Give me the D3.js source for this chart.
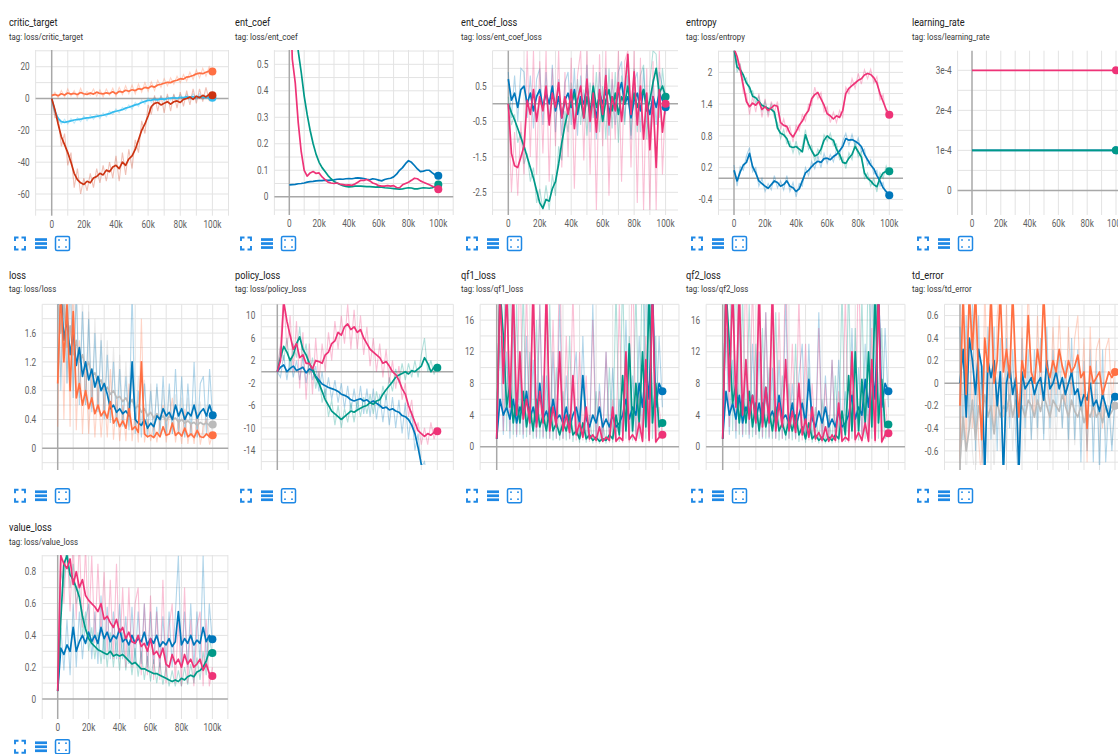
<!DOCTYPE html>
<html><head><meta charset="utf-8">
<script src="https://cdn.jsdelivr.net/npm/d3@7"></script>
<style>
html,body{margin:0;padding:0;background:#fff;overflow:hidden}
svg{display:block;font-family:Roboto,'Noto Sans',sans-serif}
</style></head><body>
<svg id="c" width="1118" height="754"></svg>
<script>
// ---------- DATA (step axis: 0..100k every 2k) ----------
const STEPS = d3.range(0, 100001, 2000);
const X_TICKS = [0, 20000, 40000, 60000, 80000, 100000];
const X_LABELS = ["0", "20k", "40k", "60k", "80k", "100k"];

// critic_target
const ct_cyan_s = [0,-8,-12.5,-14.5,-15,-14.5,-14,-13.5,-13.2,-13, -12.5,-12.2,-12,-11.5,-11.2,-10.8,-10.5,-10,-9.5,-8.5, -8,-7.5,-7,-6,-5.5,-4.8,-4,-3.5,-2.5,-1.8, -1.2,-1,-0.5,-0.8,-0.2,-0.5,0,0.3,0.5,0.2, 0.8,0.6,1,0.7,1.1,0.8,1.2,0.9,0.6,0.8, 0.5];
const ct_cyan_r = [0,-10,-13,-16,-13,-16,-12.5,-15.5,-12,-14.5, -11,-14,-10.5,-13,-10,-12.5,-9,-11.5,-8,-10, -6.5,-9,-5.5,-7.5,-4,-6.5,-2.5,-5,-1,-3.5, 0.5,-2.5,1,-2,1.5,-1.5,1.5,-1,2,-1, 2.5,-0.5,2.5,-0.5,3,-0.5,3,-0.5,2,-0.5, 1];
const ct_orange_s = [2,2.5,1.8,3,2.2,3.5,2.8,3.2,2.5,3.8, 3,2.6,3.5,2.8,4,3.2,2.9,3.6,3.1,4.2, 3,4.5,4,5.2,4.6,5.5,5,6.2,5.8,7, 6.5,7.8,7.2,8.5,9,9.6,10.2,10,11,11.5, 12.5,12.2,13.5,13.8,14.5,15.5,16,15.6,16.5,17.2, 17];
const ct_orange_r = [1,4,0.5,5,1,6,1.5,5,0.8,6.5, 1.5,4.5,2,6,1.5,5.5,1,6,2,6.5, 1.5,7,2.5,8,3,8.5,3,9,4,10, 4.5,10.5,5,11.5,7,12.5,8,13,9,14, 10,15,11,16.5,12,18,13,19,14,20, 16];
const ct_red_s = [0,-7,-16,-24,-29,-34,-40,-47,-51,-53, -54,-52,-53,-50,-49,-47,-48,-45,-46,-43, -42,-44,-40,-42,-38,-36,-32,-26,-20,-16, -11,-5,-3,-2.5,-4,-3,-2,-3.5,-2,-1.5, -2.5,-0.5,0,1,-0.5,1.5,0.5,2,1,2.5, 2];
const ct_red_r = [0,-12,-12,-30,-22,-42,-34,-56,-44,-60, -50,-58,-47,-56,-44,-53,-42,-52,-40,-50, -36,-52,-34,-48,-32,-44,-26,-34,-14,-22, -4,-10,2,-8,2,-9,3,-8,3,-6, 4,-5,5,-4,6,-3,6,-2,7,-1, 4];
const ct_yTicks = [20, 0, -20, -40, -60];
const ct_yLabels = ["20", "0", "-20", "-40", "-60"];

// ent_coef
const ec_blue = [0.045,0.046,0.047,0.049,0.05,0.052,0.055,0.057,0.058,0.06, 0.061,0.061,0.063,0.062,0.063,0.064,0.066,0.067,0.066,0.068, 0.069,0.068,0.07,0.071,0.07,0.069,0.066,0.064,0.068,0.066, 0.063,0.06,0.065,0.068,0.07,0.075,0.085,0.1,0.11,0.125, 0.136,0.13,0.118,0.105,0.095,0.097,0.1,0.1,0.09,0.082, 0.079];
const ec_teal = [1.2,0.9,0.7,0.55,0.47,0.38,0.31,0.25,0.2,0.16, 0.13,0.11,0.095,0.08,0.068,0.058,0.052,0.046,0.042,0.039, 0.037,0.038,0.04,0.04,0.04,0.039,0.038,0.038,0.037,0.036, 0.037,0.036,0.034,0.033,0.032,0.031,0.03,0.029,0.03,0.032, 0.034,0.033,0.03,0.03,0.032,0.034,0.033,0.032,0.034,0.04, 0.046];
const ec_mag = [0.9,0.52,0.43,0.28,0.17,0.1,0.078,0.09,0.095,0.088, 0.09,0.075,0.065,0.055,0.052,0.05,0.052,0.048,0.046,0.044, 0.045,0.043,0.048,0.055,0.062,0.062,0.065,0.06,0.052,0.048, 0.042,0.04,0.04,0.042,0.04,0.042,0.035,0.034,0.045,0.05, 0.055,0.062,0.07,0.068,0.06,0.055,0.05,0.045,0.04,0.035, 0.028];
const ec_yTicks = [0, 0.1, 0.2, 0.3, 0.4, 0.5];
const ec_yLabels = ["0", "0.1", "0.2", "0.3", "0.4", "0.5"];

// ent_coef_loss
const ecl_blue_s = [0.7,0.1,0.3,-0.1,0.4,0.5,0.0,0.3,-0.2,0.2, 0.4,-0.1,0.3,0.0,0.5,-0.2,0.2,-0.4,0.1,0.3, -0.1,0.4,-0.3,0.2,0.0,0.5,-0.2,0.1,-0.4,0.3, 0.0,0.4,-0.3,0.2,-0.1,0.3,0.6,0.0,0.2,-0.4, 0.1,0.3,-0.2,0.4,0.0,-0.3,0.2,-0.1,0.3,0.1, -0.1];
const ecl_blue_r = [0.9,-0.4,0.8,-0.5,1.0,0.9,-0.4,0.8,-0.7,0.7, 1.0,-0.6,0.9,-0.5,1.1,-0.8,0.7,-0.9,0.6,0.9, -0.6,1.0,-0.9,0.8,-0.5,1.1,-0.8,0.6,-1.0,0.9, -0.5,1.0,-0.9,0.7,-0.6,0.9,1.2,-0.5,0.8,-1.0, 0.6,0.9,-0.8,1.0,-0.5,-0.9,0.7,-0.6,0.9,0.5, -0.3];
const ecl_teal_s = [0,-0.25,-0.45,-0.7,-0.95,-1.2,-1.5,-1.8,-2.1,-2.45, -2.8,-2.95,-2.7,-2.75,-2.4,-2.2,-1.7,-1.1,-0.6,-0.2, 0.0,0.3,-0.2,0.1,-0.4,0.2,-0.3,0.5,-0.1,0.2, -0.5,0.1,0.4,-0.2,0.3,-0.3,0.2,0.0,0.5,-0.2, 0.3,-0.1,0.2,0.4,-0.2,0.1,0.6,1.0,0.3,0.5, 0.2];
const ecl_teal_r = [0.2,-0.6,-0.3,-1.1,-0.8,-1.7,-1.4,-2.2,-1.8,-2.8, -2.4,-3.0,-2.3,-3.0,-2.0,-2.6,-1.2,-1.6,-0.2,-0.8, 0.6,-0.5,0.7,-0.6,0.4,-0.9,0.6,-0.4,0.9,-0.8, 0.5,-1.0,1.0,-0.7,0.9,-1.1,0.8,-0.6,1.2,-0.9, 1.0,-0.8,0.8,1.1,-1.0,0.6,1.5,1.4,-0.4,1.0, 0.1];
const ecl_mag_s = [0,-1.4,-1.75,-1.8,-1.5,-1.2,0.1,-0.3,0.4,-0.5, 0.2,-0.2,0.5,-0.6,0.3,-0.1,0.6,-0.4,0.2,-0.3, 0.4,-0.7,0.1,0.5,-0.4,0.7,-0.5,0.3,-0.8,0.4, -0.3,0.8,-0.6,0.2,-0.2,0.6,-0.5,0.4,1.4,-0.3, 0.9,-0.6,0.5,-1.0,0.3,-1.3,0.2,-1.8,0.4,-0.8, 0.0];
const ecl_mag_r = [0,-2.5,-0.8,-2.6,-0.5,-2.0,1.5,-1.5,1.5,-2.0, 1.2,-1.4,1.5,-2.2,1.0,-1.2,1.5,-1.8,0.9,-1.5, 1.3,-2.4,0.8,1.5,-1.6,1.5,-2.0,1.1,-3.0,1.4, -1.2,1.5,-2.6,0.9,-1.0,1.5,-2.2,1.2,1.5,-1.8, 1.5,-2.8,1.3,-3.0,1.0,-3.0,1.2,-3.0,1.5,-2.0, 0.2];
const ecl_yTicks = [0.5, -0.5, -1.5, -2.5];
const ecl_yLabels = ["0.5", "-0.5", "-1.5", "-2.5"];

// entropy
const en_blue_s = [0.15,-0.05,0.12,0.25,0.3,0.47,0.22,0.1,-0.05,-0.1, -0.15,-0.19,-0.12,-0.05,-0.08,-0.15,-0.12,-0.05,-0.15,-0.18, -0.25,-0.2,-0.05,0.1,0.15,0.22,0.28,0.32,0.3,0.37, 0.38,0.35,0.41,0.45,0.52,0.6,0.75,0.72,0.73,0.7, 0.66,0.6,0.45,0.35,0.25,0.18,0.05,-0.05,-0.18,-0.25, -0.32];
const en_blue_r = [0.25,-0.15,0.22,0.15,0.42,0.58,0.12,0.2,-0.15,0.0, -0.25,-0.1,-0.22,0.05,-0.18,-0.05,-0.22,0.05,-0.25,-0.08, -0.35,-0.1,-0.15,0.2,0.05,0.32,0.18,0.42,0.2,0.47, 0.28,0.45,0.31,0.55,0.42,0.7,0.85,0.62,0.83,0.6, 0.76,0.5,0.55,0.25,0.35,0.08,0.15,-0.15,-0.08,-0.35, -0.4];
const en_teal_s = [2.45,2.1,2.05,1.95,1.8,1.72,1.55,1.52,1.45,1.38, 1.35,1.32,1.3,1.25,0.95,0.85,0.82,0.75,0.6,0.58, 0.6,0.55,0.5,0.82,0.65,0.52,0.42,0.45,0.55,0.72, 0.8,0.75,0.72,0.55,0.45,0.3,0.28,0.38,0.45,0.6, 0.5,0.4,0.1,0.0,-0.05,-0.12,-0.16,0.0,0.1,0.13, 0.13];
const en_teal_r = [2.5,2.0,2.15,1.85,1.9,1.62,1.65,1.42,1.55,1.28, 1.45,1.22,1.4,1.15,1.05,0.75,0.92,0.65,0.7,0.48, 0.7,0.45,0.6,0.92,0.55,0.62,0.32,0.55,0.45,0.82, 0.7,0.85,0.62,0.65,0.35,0.4,0.18,0.48,0.35,0.7, 0.4,0.5,0.0,0.1,-0.15,0.0,-0.26,0.1,0.0,0.23, 0.05];
const en_mag_s = [2.45,2.3,2.05,1.75,1.45,1.35,1.42,1.38,1.45,1.3, 1.35,1.28,1.33,1.38,1.36,1.05,1.0,0.98,0.85,0.78, 0.88,1.0,1.08,1.2,1.28,1.5,1.58,1.62,1.5,1.38, 1.22,1.18,1.12,1.18,1.15,1.28,1.6,1.7,1.75,1.8, 1.85,1.88,1.95,1.98,1.96,1.9,1.8,1.6,1.45,1.3, 1.2];
const en_mag_r = [2.5,2.2,2.15,1.6,1.6,1.2,1.55,1.25,1.6,1.15, 1.5,1.15,1.45,1.25,1.45,0.92,1.12,0.88,0.98,0.68, 1.0,0.9,1.2,1.08,1.4,1.38,1.72,1.5,1.62,1.25, 1.35,1.05,1.25,1.05,1.28,1.15,1.72,1.6,1.88,1.7, 1.98,1.78,2.05,1.88,2.06,1.8,1.92,1.48,1.58,1.2, 1.25];
const en_yTicks = [2, 1.4, 0.8, 0.2, -0.4];
const en_yLabels = ["2", "1.4", "0.8", "0.2", "-0.4"];

// learning_rate
const LR_STEPS = [0, 100000];
const lr_blue = [1e-4, 1e-4];
const lr_teal = [1e-4, 1e-4];
const lr_mag = [3e-4, 3e-4];
const lr_yTicks = [0, 1e-4, 2e-4, 3e-4];
const lr_yLabels = ["0", "1e-4", "2e-4", "3e-4"];

// loss
const ls_gray_s = [2.2,1.6,2.0,1.4,1.7,1.3,1.5,1.2,1.3,1.1, 1.2,1.0,1.05,0.9,0.95,0.8,0.85,0.75,0.8,0.7, 0.72,0.65,0.7,0.6,0.68,0.55,0.6,0.5,0.55,0.45, 0.5,0.42,0.48,0.4,0.45,0.38,0.45,0.4,0.42,0.36, 0.4,0.35,0.38,0.34,0.36,0.32,0.36,0.33,0.35,0.32, 0.33];
const ls_gray_r = [2.5,1.0,2.5,0.9,2.5,0.8,2.3,0.7,2.1,0.6, 1.9,0.55,1.8,0.5,1.6,0.45,1.5,0.4,1.4,0.4, 1.3,0.35,1.2,0.3,1.1,0.3,1.0,0.3,0.95,0.25, 0.9,0.25,0.85,0.2,0.8,0.2,0.8,0.2,0.75,0.2, 0.7,0.15,0.7,0.15,0.65,0.15,0.65,0.15,0.6,0.15, 0.35];
const ls_blue_s = [2.0,2.2,1.5,1.8,1.3,1.6,1.15,1.4,1.0,1.2, 0.95,1.1,0.85,1.0,0.8,0.9,0.75,0.55,0.6,0.5, 0.55,0.48,0.52,0.45,1.2,0.4,0.35,0.32,0.4,0.28, 0.35,0.3,0.45,0.4,0.55,0.45,0.5,0.4,0.6,0.45, 0.55,0.4,0.5,0.45,0.6,0.42,0.5,0.55,0.45,0.6, 0.46];
const ls_blue_r = [2.5,0.8,2.5,0.9,2.5,0.7,2.2,0.6,1.9,0.6, 1.8,0.5,1.6,0.5,1.5,0.4,1.3,0.35,1.2,0.3, 1.1,0.3,1.0,0.25,2.2,0.2,0.8,0.15,0.9,0.15, 0.8,0.15,0.9,0.2,1.0,0.2,0.9,0.2,1.1,0.2, 1.0,0.15,0.9,0.2,1.2,0.15,0.9,1.0,0.2,1.1, 0.4];
const ls_orange_s = [0.9,2.2,1.2,2.0,0.8,1.9,0.7,0.9,0.6,0.8, 0.55,0.7,0.48,0.6,0.45,0.52,0.42,0.65,0.35,0.42, 0.3,0.38,0.28,0.55,0.26,0.3,0.22,1.2,0.2,0.16, 0.18,0.15,0.22,0.16,0.3,0.18,0.2,0.35,0.18,0.22, 0.17,0.28,0.16,0.2,0.15,0.25,0.16,0.15,0.2,0.16, 0.18];
const ls_orange_r = [0.3,2.5,0.4,2.5,0.3,2.5,0.25,1.5,0.2,1.2, 0.2,1.0,0.15,0.9,0.15,0.8,0.15,1.1,0.12,0.7, 0.1,0.6,0.1,0.9,0.1,0.5,0.08,1.8,0.08,0.4, 0.1,0.35,0.08,0.4,0.6,0.08,0.45,0.7,0.08,0.4, 0.06,0.55,0.06,0.35,0.06,0.5,0.05,0.3,0.4,0.05, 0.2];
const ls_yTicks = [0, 0.4, 0.8, 1.2, 1.6];
const ls_yLabels = ["0", "0.4", "0.8", "1.2", "1.6"];

// policy_loss
const pl_blue_s = [0,0.8,1.2,0,0.6,1,0.2,0.5,0.8,-0.2, 0.5,0.2,-0.8,-1.5,-2.2,-2.5,-2.8,-3,-3.2,-3.5, -4,-4.2,-4.5,-5,-5.2,-5,-4.8,-5.2,-5,-5.5, -5.2,-5.6,-6,-6.5,-6.3,-6.8,-6.6,-7,-7.2,-7.8, -8,-8.5,-9.5,-11,-13.5,-16.5,-18,-19,-20,-21, -22];
const pl_blue_r = [0,-1,3,-1.5,2.5,-1,2,-1.5,2.5,-2, 2,-1.5,1,-3.5,0,-4.5,-1,-5,-1.5,-5.5, -2,-6.5,-2.5,-7,-3,-7,-2.5,-7.5,-3,-8, -3,-8.5,-4,-9,-4,-9.5,-4.5,-10,-5,-11, -5.5,-12,-7,-14,-11,-17,-16,-20,-18,-22, -20];
const pl_teal_s = [0,2.5,4.5,3.5,2,3,5,6.2,4,3, 1.5,0.5,-1,-2,-3.5,-5,-6,-7,-7.5,-8, -8.5,-8,-7.5,-7,-7.2,-6.8,-6.5,-6.2,-6,-5.5, -5.8,-5.2,-5,-4,-3.2,-2.5,-1.8,-1,-0.6,-0.3, 0,-0.4,0.2,0,0.5,1,2.5,1.5,0,0.8, 0.7];
const pl_teal_r = [0,4.5,2,6,0,5,2.5,8,2,5, -0.5,2.5,-3,0,-5.5,-3,-8,-5,-9.5,-6, -10,-6.5,-9,-5.5,-9,-5,-8,-4.5,-7.5,-4, -7.5,-3.5,-6.5,-2.5,-5,-1,-3.5,0.5,-2,1.5, -1.5,1.5,-1,2,-1,3,6,0,2,-0.5, 1.5];
const pl_mag_s = [0,2,12.5,9,6.5,4,5,2.5,3,1.5, 1.5,0.5,2,1.8,1.5,3,3.5,5,5.5,7, 6.5,8,8.5,7.5,8,7,7.5,6,5,4, 3.5,3,2.5,1.5,1.8,1,0,-0.5,-1.5,-3, -4,-6,-7.5,-9,-10.5,-11,-11.5,-11,-11.3,-10.8, -10.6];
const pl_mag_r = [0,5,14,4,10,0,9,-3,7,-5, 5,-4,6,-2,5,0,7,2,9,4, 10,5,12,4,11,4,10,3,8,1, 6,0,5,-1,4,-2,2,-3,1,-5, -2,-8,-5,-11,-9,-13,-10,-13,-9,-12, -10];
const pl_yTicks = [10, 6, 2, -2, -6, -10, -14];
const pl_yLabels = ["10", "6", "2", "-2", "-6", "-10", "-14"];

// qf1_loss
const q1_blue_s = [1,6,4,5,3.5,6,3,5,4,7, 3.5,5,3,8,3.5,4.5,3,6,3.5,4, 3,5,2.5,4,5,3,9,3.5,2.5,4, 3,5,2.5,3.5,2.5,4,2.5,3,4,6, 3.5,5,4,8,5,10,6,20,5,8, 7];
const q1_blue_r = [1,14,1.5,12,1,16,1.2,10,1,14, 1.5,11,1,18,1,9,1,12,1,18, 1,9,1,8,12,1,14,1.5,1,18, 1,8,1,12,1,10,1,6,1.5,16, 1,9,1.5,14,2,25,1.5,18,2,14, 5];
const q1_teal_s = [1,20,14,5,8,3,6,3,7,2.5, 5,2,6,2.5,4,2,5,2,3,1.5, 3,2,4,1.5,2,1,3,1,1.5,0.8, 1.2,0.7,1,0.8,1.5,1,4,1.5,9,2, 13,2,8,3,12,2.5,20,3,8,2.5, 3];
const q1_teal_r = [1,25,25,2,25,1.5,18,1.5,20,1.2, 12,1,16,1,9,1,18,0.8,10,0.8, 7,0.8,14,0.6,5,0.5,9,0.5,4,0.4, 7,0.4,3,0.4,10,0.5,20,0.6,22,1, 14,0.8,20,1,25,1,25,1,14,1, 2];
const q1_mag_s = [1,20,8,20,5,20,4,12,3.5,6, 3,20,2.5,7,3,20,2,5,2.5,12, 2,4,1.8,9,1.5,3,1.2,5,1,1.5, 0.8,2.5,0.7,1.2,0.8,5,0.7,1.2,0.8,12, 0.9,1.5,0.8,3,0.7,11,0.8,20,0.6,1.2, 1.5];
const q1_mag_r = [1,25,2,25,2,25,1.5,25,1.5,20, 1.5,25,1.2,18,1.2,25,1.0,16,1.0,25, 1.0,14,0.9,20,0.8,12,0.8,9,0.6,16, 0.5,7,0.5,12,0.5,6,0.5,18,0.5,8, 0.5,25,0.5,7,0.5,14,0.5,25,0.4,5, 1.2];
const q_yTicks = [0, 4, 8, 12, 16];
const q_yLabels = ["0", "4", "8", "12", "16"];

// qf2_loss
const q2_blue_s = [1,7,4,5.5,3.5,6.5,3,5,4,6.5, 3.5,5.5,3,7.5,3.5,4.5,3,6.5,3.5,4, 3,5.5,2.5,4,5.5,3,8.5,3.5,2.5,4.5, 3,5,2.5,3.5,2.5,4.5,2.5,3,4,6.5, 3.5,5,4,8.5,5,10,6,20,5,8, 7];
const q2_blue_r = [1,15,1.5,11,1,17,1.2,11,1,13, 1.5,12,1,17,1,10,1,11,1,19, 1,8,1,9,13,1,13,1.5,1,17, 1,9,1,11,1,11,1,7,1.5,15, 1,10,1.5,13,2,25,1.5,17,2,15, 5];
const q2_teal_s = [1,20,13,5.5,8,3,6.5,3,7,2.5, 5.5,2,5.5,2.5,4.5,2,5,2,3,1.5, 3.5,2,4,1.5,2.5,1,3,1,1.5,0.8, 1.2,0.7,1.2,0.8,1.5,1,4.5,1.5,9,2, 12,2,8.5,3,12,2.5,20,3,8.5,2.5, 2.8];
const q2_teal_r = [1,25,25,2,25,1.5,19,1.5,18,1.2, 13,1,15,1,10,1,17,0.8,9,0.8, 8,0.8,13,0.6,6,0.5,10,0.5,5,0.4, 6,0.4,4,0.4,9,0.5,20,0.6,21,1, 15,0.8,19,1,25,1,25,1,15,1, 2];
const q2_mag_s = [1,20,7,20,5,20,4,11,3.5,6.5, 3,20,2.5,7.5,3,20,2,5.5,2.5,11, 2,4.5,1.8,8,1.5,3.5,1.2,5,1,1.8, 0.8,2.5,0.7,1.5,0.8,5.5,0.7,1.2,0.8,12, 0.9,1.8,0.8,3,0.7,11,0.8,20,0.6,1.5, 1.7];
const q2_mag_r = [1,25,2.5,25,2,25,1.5,24,1.5,21, 1.5,25,1.2,17,1.2,25,1.0,17,1.0,25, 1.0,13,0.9,19,0.8,13,0.8,8,0.6,15, 0.5,8,0.5,11,0.5,7,0.5,19,0.5,7, 0.5,25,0.5,8,0.5,15,0.5,25,0.4,6, 1.2];

// td_error
const td_gray_s = [-0.7,-0.3,-0.6,-0.4,-0.15,-0.5,-0.2,-0.35,-0.1,-0.3, -0.2,-0.45,-0.15,-0.3,-0.2,-0.25,-0.1,-0.3,-0.15,-0.25, -0.2,-0.3,-0.15,-0.2,-0.3,-0.15,-0.25,-0.1,-0.2,-0.3, -0.15,-0.2,-0.25,-0.1,-0.2,-0.3,-0.15,-0.25,-0.3,-0.2, -0.35,-0.25,-0.3,-0.2,-0.3,-0.25,-0.35,-0.2,-0.3,-0.25, -0.2];
const td_gray_r = [-0.9,0.1,-0.9,0.0,-0.6,-0.9,0.1,-0.7,0.2,-0.7, 0.1,-0.8,0.1,-0.6,0.05,-0.6,0.1,-0.6,0.1,-0.55, 0.05,-0.6,0.1,-0.5,-0.05,-0.5,0.05,-0.45,0.05,-0.6, 0.1,-0.5,0.0,-0.4,0.05,-0.6,0.1,-0.55,-0.05,-0.5, -0.05,-0.6,0.0,-0.5,-0.05,-0.6,-0.1,-0.5,0.0,-0.55, -0.2];
const td_blue_s = [0,0.3,-0.3,0.4,0.2,-0.1,0.3,0.15,-0.8,0.2, 0.05,0.2,-0.2,0.1,-0.8,0.0,0.15,-0.1,0.05,-0.8, 0.1,-0.05,0.0,0.05,-0.1,0.0,0.05,-0.15,0.2,-0.05, 0.0,0.1,-0.05,0.05,-0.1,0.0,0.1,-0.1,-0.05,-0.2, -0.1,-0.15,0.0,-0.2,-0.15,-0.25,-0.1,-0.2,-0.3,-0.15, -0.12];
const td_blue_r = [0.5,-0.5,0.6,-0.4,0.7,-0.6,0.6,-0.5,-0.9,0.5, -0.5,0.5,-0.6,0.4,-0.9,0.4,-0.4,0.3,-0.5,-0.9, 0.4,-0.4,0.3,-0.5,0.3,-0.4,0.4,-0.5,0.5,-0.4, 0.3,-0.3,0.3,-0.4,0.2,-0.5,0.4,-0.5,0.3,-0.7, 0.2,-0.6,0.3,-0.7,0.2,-0.8,0.3,-0.7,-0.2,-0.6, -0.1];
const td_orange_s = [-0.2,0.8,-0.1,0.8,0.3,0.8,0.05,-0.5,0.4,0.1, 0.8,0.0,0.2,0.8,0.1,0.3,0.05,0.8,0.1,-0.3, 0.2,0.05,0.6,0.1,0.0,0.3,0.1,0.8,0.15,0.05, 0.2,0.1,0.3,0.15,0.05,0.2,0.1,0.15,0.25,0.05, 0.1,-0.4,0.15,0.0,0.05,0.1,-0.1,0.0,0.1,0.05, 0.1];
const td_orange_r = [-0.7,0.9,-0.6,0.9,-0.4,0.9,-0.5,-0.9,0.9,-0.3, 0.9,-0.4,0.6,0.9,-0.3,0.7,-0.3,0.9,-0.2,-0.8, 0.5,-0.2,0.9,-0.1,-0.3,0.6,-0.1,0.9,0.0,-0.2, 0.5,-0.1,0.6,0.0,-0.2,0.5,-0.1,0.4,0.6,-0.2, 0.4,-0.7,0.5,-0.3,0.3,0.4,-0.4,0.3,0.4,-0.2, 0.2];
const td_yTicks = [0.6, 0.4, 0.2, 0, -0.2, -0.4, -0.6];
const td_yLabels = ["0.6", "0.4", "0.2", "0", "-0.2", "-0.4", "-0.6"];

// value_loss
const vl_blue_s = [0.05,0.32,0.28,0.34,0.3,0.45,0.3,0.36,0.4,0.35, 0.42,0.36,0.4,0.35,0.45,0.38,0.42,0.36,0.4,0.38, 0.44,0.36,0.38,0.34,0.4,0.35,0.38,0.36,0.42,0.34, 0.38,0.35,0.4,0.33,0.36,0.34,0.38,0.33,0.36,0.55, 0.34,0.38,0.35,0.4,0.34,0.37,0.35,0.45,0.36,0.4, 0.376];
const vl_blue_r = [0.05,0.45,0.18,0.5,0.15,0.6,0.2,0.55,0.25,0.5, 0.6,0.25,0.55,0.22,0.65,0.25,0.58,0.25,0.55,0.25, 0.6,0.25,0.52,0.22,0.58,0.22,0.55,0.22,0.6,0.2, 0.55,0.22,0.58,0.2,0.52,0.2,0.55,0.2,0.52,0.9, 0.2,0.55,0.2,0.6,0.2,0.55,0.22,0.9,0.2,0.6, 0.35];
const vl_teal_s = [0.05,0.5,0.85,0.9,0.78,0.75,0.7,0.64,0.52,0.44, 0.38,0.35,0.33,0.31,0.3,0.29,0.28,0.3,0.27,0.28, 0.27,0.28,0.26,0.24,0.22,0.23,0.21,0.19,0.19,0.18, 0.17,0.16,0.16,0.15,0.14,0.13,0.12,0.11,0.12,0.11, 0.13,0.12,0.14,0.15,0.14,0.17,0.18,0.2,0.24,0.3, 0.29];
const vl_teal_r = [0.05,0.8,0.7,1.0,0.7,0.85,0.6,0.7,0.4,0.55, 0.3,0.45,0.25,0.42,0.22,0.4,0.2,0.42,0.2,0.38, 0.18,0.42,0.18,0.34,0.15,0.32,0.14,0.3,0.12,0.27, 0.11,0.25,0.1,0.23,0.09,0.2,0.08,0.18,0.08,0.18, 0.08,0.2,0.09,0.22,0.1,0.26,0.12,0.3,0.15,0.4, 0.27];
const vl_mag_s = [0.05,0.9,0.85,0.82,0.88,0.72,0.8,0.7,0.75,0.65, 0.62,0.6,0.58,0.55,0.6,0.5,0.52,0.48,0.45,0.5, 0.42,0.45,0.38,0.42,0.36,0.35,0.4,0.33,0.35,0.3, 0.38,0.28,0.3,0.26,0.32,0.22,0.2,0.28,0.22,0.25, 0.2,0.28,0.22,0.25,0.2,0.22,0.25,0.18,0.22,0.16, 0.145];
const vl_mag_r = [0.05,1.0,0.6,1.0,0.55,1.0,0.5,1.0,0.45,0.95, 0.4,0.9,0.35,0.85,0.4,0.8,0.3,0.75,0.25,0.85, 0.25,0.7,0.2,0.7,0.2,0.6,0.7,0.15,0.6,0.15, 0.65,0.12,0.55,0.12,0.75,0.1,0.45,0.6,0.1,0.5, 0.08,0.7,0.1,0.5,0.08,0.45,0.55,0.08,0.5,0.08, 0.2];
const vl_yTicks = [0, 0.2, 0.4, 0.6, 0.8];
const vl_yLabels = ["0", "0.2", "0.4", "0.6", "0.8"];

// ---------- STYLE / LAYOUT ----------
const C = {orange:'#ff7043', blue:'#0077bb', red:'#cc3311', cyan:'#33bbee', magenta:'#ee3377', teal:'#009988', gray:'#bbbbbb'};
const CARD_X = [0, 226, 452, 677, 903];
const ROWS = [{titleY:26, tagY:39.5, iconY:243.5}, {titleY:278.5, tagY:292, iconY:495.7}, {titleY:531, tagY:544.5, iconY:746.7}];

const panels = [
 {title:'critic_target', col:0, row:0, x0:51.7, s:16.07, top:50, bottom:210.7, yd:[-70.5,30.5], yStep:10, yT:ct_yTicks, yL:ct_yLabels, xLab:true,
  series:[{c:C.cyan, s:ct_cyan_s, r:ct_cyan_r},{c:C.orange, s:ct_orange_s, r:ct_orange_r},{c:C.red, s:ct_red_s, r:ct_red_r}]},
 {title:'ent_coef', col:1, row:0, x0:289.3, s:14.9, top:50, bottom:210, yd:[-0.05,0.554], yStep:0.05, yT:ec_yTicks, yL:ec_yLabels, xLab:true,
  series:[{c:C.blue, s:ec_blue},{c:C.teal, s:ec_teal},{c:C.magenta, s:ec_mag}]},
 {title:'ent_coef_loss', col:2, row:0, x0:508.3, s:15.73, top:50.7, bottom:210, yd:[-3.0,1.5], yStep:0.5, yT:ecl_yTicks, yL:ecl_yLabels, xLab:true, gr:678,
  series:[{c:C.blue, s:ecl_blue_s, r:ecl_blue_r},{c:C.teal, s:ecl_teal_s, r:ecl_teal_r},{c:C.magenta, s:ecl_mag_s, r:ecl_mag_r}]},
 {title:'entropy', col:3, row:0, x0:734, s:15.53, top:50.7, bottom:210, yd:[-0.6,2.41], yStep:0.2, yT:en_yTicks, yL:en_yLabels, xLab:true, gr:903,
  series:[{c:C.blue, s:en_blue_s, r:en_blue_r},{c:C.teal, s:en_teal_s, r:en_teal_r},{c:C.magenta, s:en_mag_s, r:en_mag_r}]},
 {title:'learning_rate', col:4, row:0, x0:972, s:14.4, top:50.7, bottom:210, yd:[-0.49e-4,3.49e-4], yStep:0.5e-4, yT:lr_yTicks, yL:lr_yLabels, xLab:true, steps:LR_STEPS,
  series:[{c:C.blue, s:lr_blue},{c:C.teal, s:lr_teal},{c:C.magenta, s:lr_mag}]},
 {title:'loss', col:0, row:1, x0:57.7, s:15.5, top:304.3, bottom:465, yd:[-0.232,2.0], yStep:0.2, yT:ls_yTicks, yL:ls_yLabels, xLab:false,
  series:[{c:C.gray, s:ls_gray_s, r:ls_gray_r},{c:C.blue, s:ls_blue_s, r:ls_blue_r},{c:C.orange, s:ls_orange_s, r:ls_orange_r}]},
 {title:'policy_loss', col:1, row:1, x0:277.3, s:16, top:304.3, bottom:465, yd:[-16.6,12.0], yStep:2, yT:pl_yTicks, yL:pl_yLabels, xLab:false,
  series:[{c:C.blue, s:pl_blue_s, r:pl_blue_r},{c:C.teal, s:pl_teal_s, r:pl_teal_r},{c:C.magenta, s:pl_mag_s, r:pl_mag_r}]},
 {title:'qf1_loss', col:2, row:1, x0:496.7, s:16.57, top:304.3, bottom:465, yd:[-2.31,18.0], yStep:2, yT:q_yTicks, yL:q_yLabels, xLab:false,
  series:[{c:C.blue, s:q1_blue_s, r:q1_blue_r},{c:C.teal, s:q1_teal_s, r:q1_teal_r},{c:C.magenta, s:q1_mag_s, r:q1_mag_r}]},
 {title:'qf2_loss', col:3, row:1, x0:722.7, s:16.57, top:304.3, bottom:465, yd:[-2.31,18.0], yStep:2, yT:q_yTicks, yL:q_yLabels, xLab:false,
  series:[{c:C.blue, s:q2_blue_s, r:q2_blue_r},{c:C.teal, s:q2_teal_s, r:q2_teal_r},{c:C.magenta, s:q2_mag_s, r:q2_mag_r}]},
 {title:'td_error', col:4, row:1, x0:960, s:15.5, top:304.3, bottom:465, yd:[-0.725,0.7], yStep:0.1, yT:td_yTicks, yL:td_yLabels, xLab:false,
  series:[{c:C.gray, s:td_gray_s, r:td_gray_r},{c:C.blue, s:td_blue_s, r:td_blue_r},{c:C.orange, s:td_orange_s, r:td_orange_r}]},
 {title:'value_loss', col:0, row:2, x0:57.7, s:15.47, top:555, bottom:714, yd:[-0.094,0.905], yStep:0.1, yT:vl_yTicks, yL:vl_yLabels, xLab:true,
  series:[{c:C.blue, s:vl_blue_s, r:vl_blue_r},{c:C.teal, s:vl_teal_s, r:vl_teal_r},{c:C.magenta, s:vl_mag_s, r:vl_mag_r}]}
];

const svg = d3.select('#c');
const SX = 0.8;
function txt(g, x, y, str, size, anchor, fill){
  g.append('text').attr('transform', `translate(${x},${y}) scale(${SX},1)`)
   .attr('text-anchor', anchor).attr('fill', fill).style('font-size', size + 'px').text(str);
}
function icons(g, x, cy){
  const col = '#1e88e5';
  const ig = g.append('g').attr('fill', 'none').attr('stroke', col).attr('stroke-width', 1.9);
  const bx = x + 15, by = cy - 6, w = 10, h = 12, l = 3.5;
  ig.append('path').attr('d',
    `M${bx},${by+l}V${by}H${bx+l} M${bx+w-l},${by}H${bx+w}V${by+l} M${bx},${by+h-l}V${by+h}H${bx+l} M${bx+w-l},${by+h}H${bx+w}V${by+h-l}`);
  [-5.3, -1.3, 2.7].forEach(dy => g.append('rect').attr('x', x + 35).attr('y', cy + dy).attr('width', 12).attr('height', 2.7).attr('fill', col));
  ig.append('rect').attr('x', x + 55.5).attr('y', cy - 7).attr('width', 14).attr('height', 14).attr('rx', 1.5).attr('stroke-width', 1.5);
  const cx0 = x + 62.5;
  const dg = g.append('g').attr('fill', col);
  [[-3.5,-3.5],[3.5,-3.5],[-3.5,3.5],[3.5,3.5]].forEach(([dx,dy]) =>
    dg.append('rect').attr('x', cx0 + dx - 0.8).attr('y', cy + dy - 0.8).attr('width', 1.6).attr('height', 1.6));
}

panels.forEach((p, pi) => {
  const cardX = CARD_X[p.col], R = ROWS[p.row];
  const g = svg.append('g');
  txt(g, cardX + 9, R.titleY, p.title, 11.5, 'start', '#212121');
  txt(g, cardX + 9, R.tagY, 'tag: loss/' + p.title, 9.8, 'start', '#333');
  icons(g, cardX, R.iconY);

  const gl = p.x0 - p.s, gr = p.gr || (p.x0 + 11 * p.s);
  const x = d3.scaleLinear().domain([-10000, 110000]).range([p.x0 - p.s, p.x0 + 11 * p.s]);
  const y = d3.scaleLinear().domain(p.yd).range([p.bottom, p.top]);

  const grid = g.append('g').attr('stroke', '#e3e3e3').attr('stroke-width', 1);
  const k0 = Math.ceil(p.yd[0] / p.yStep - 1e-6), k1 = Math.floor(p.yd[1] / p.yStep + 1e-6);
  d3.range(k0, k1 + 1).map(k => k * p.yStep).forEach(v => {
    if (Math.abs(v) < 1e-12) return;
    grid.append('line').attr('x1', gl).attr('x2', Math.min(gr, 1118)).attr('y1', y(v)).attr('y2', y(v));
  });
  d3.range(-10000, 110001, 10000).forEach(v => {
    const xv = x(v);
    if (xv < gl - 0.5 || xv > gr + 0.5) return;
    grid.append('line').attr('x1', xv).attr('x2', xv).attr('y1', p.top).attr('y2', p.bottom + 5)
      .attr('stroke', v === 0 ? 'none' : '#e3e3e3');
  });
  g.append('line').attr('x1', gl).attr('x2', Math.min(gr, 1118)).attr('y1', y(0)).attr('y2', y(0)).attr('stroke', '#a8a8a8').attr('stroke-width', 1.5);
  g.append('line').attr('x1', x(0)).attr('x2', x(0)).attr('y1', p.top).attr('y2', p.bottom + 5).attr('stroke', '#a8a8a8').attr('stroke-width', 1.5);

  p.yT.forEach((v, i) => txt(g, gl - 6, y(v) + 3.7, p.yL[i], 10.3, 'end', '#5f5f5f'));
  if (p.xLab) X_TICKS.forEach((v, i) => txt(g, x(v), p.bottom + 17, X_LABELS[i], 10.3, 'middle', '#5f5f5f'));

  const cid = 'clip' + pi;
  svg.append('clipPath').attr('id', cid).append('rect').attr('x', gl).attr('y', p.top).attr('width', gr - gl).attr('height', p.bottom - p.top);
  const plot = g.append('g').attr('clip-path', `url(#${cid})`);
  const steps = p.steps || STEPS;
  const line = d3.line().x((d, i) => x(steps[i])).y(d => y(d));
  p.series.forEach(se => {
    if (se.r) plot.append('path').attr('d', line(se.r)).attr('fill', 'none').attr('stroke', se.c).attr('stroke-opacity', 0.3).attr('stroke-width', 1.1);
  });
  p.series.forEach(se => {
    plot.append('path').attr('d', line(se.s)).attr('fill', 'none').attr('stroke', se.c).attr('stroke-width', 1.7).attr('stroke-linejoin', 'round');
  });
  p.series.forEach(se => {
    const last = se.s[se.s.length - 1];
    if (last < p.yd[0] || last > p.yd[1]) return;
    g.append('circle').attr('cx', x(steps[se.s.length - 1])).attr('cy', y(last)).attr('r', 4).attr('fill', se.c);
  });
});
</script>
</body></html>
